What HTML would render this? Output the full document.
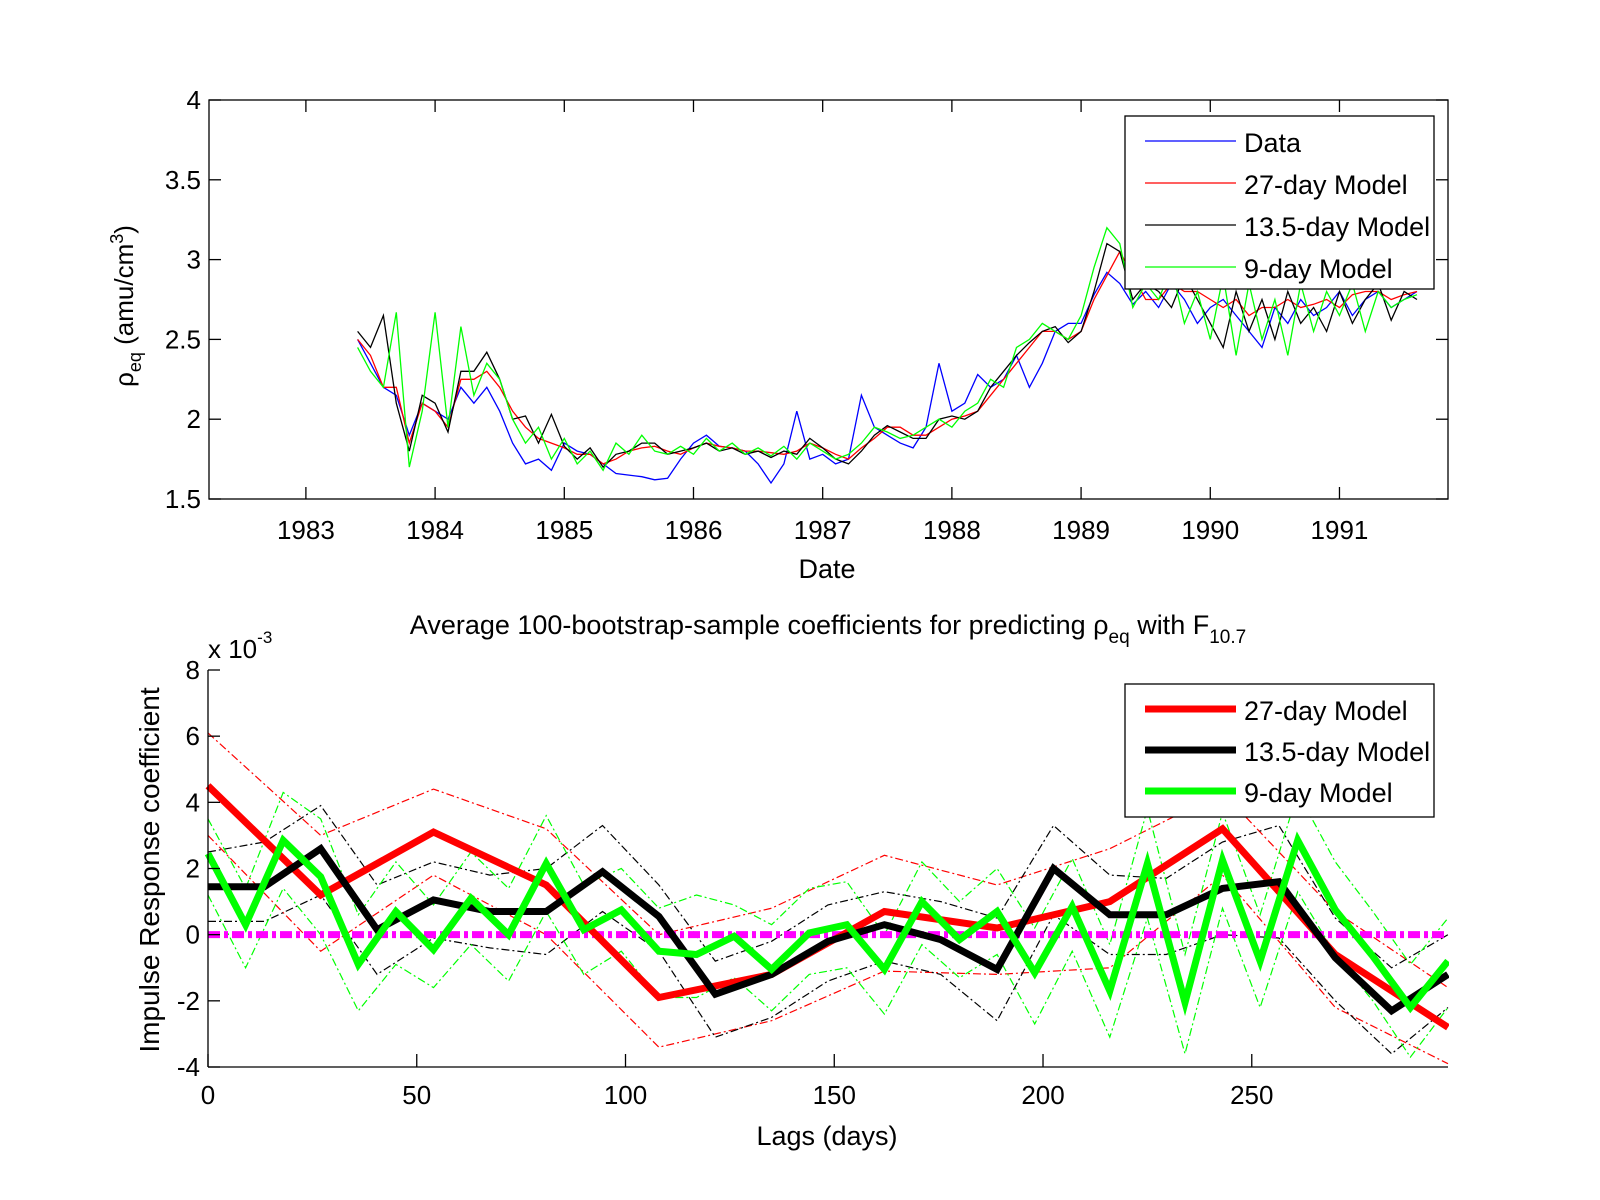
<!DOCTYPE html>
<html><head><meta charset="utf-8"><style>
html,body{margin:0;padding:0;background:#fff;}
svg{display:block;font-family:"Liberation Sans",sans-serif;}
</style></head><body>
<svg id="fig" width="1600" height="1200" viewBox="0 0 1600 1200" xmlns="http://www.w3.org/2000/svg">
<rect width="1600" height="1200" fill="#fff"/>
</svg>
<script>
// ---------- TOP CHART DATA ----------
const topStartYear = 1983.4;
const topStepYear = 0.1;
const topXTicks = [1983,1984,1985,1986,1987,1988,1989,1990,1991];
const topYTicks = [1.5,2,2.5,3,3.5,4];
const dataSeries = [2.5,2.35,2.2,2.15,1.9,2.1, 2.05,2.0,2.2,2.1,2.2,2.05,1.85,1.72,1.75,1.68, 1.85,1.8,1.78,1.72,1.66,1.65,1.64,1.62,1.63,1.75, 1.85,1.9,1.83,1.82,1.8,1.72,1.6,1.72,2.05,1.75, 1.78,1.72,1.75,2.15,1.95,1.9,1.85,1.82,1.95,2.35, 2.05,2.1,2.28,2.2,2.25,2.4,2.2,2.35,2.55,2.6, 2.6,2.78,2.92,2.85,2.72,2.8,2.7,2.85,2.75,2.6, 2.7,2.75,2.65,2.55,2.45,2.7,2.6,2.75,2.65,2.7, 2.8,2.65,2.75,2.8,2.7,2.75,2.8];
const model27Series = [2.5,2.4,2.2,2.2,1.85,2.1, 2.05,1.95,2.25,2.25,2.3,2.2,2.05,1.95,1.88,1.85, 1.82,1.78,1.78,1.72,1.75,1.8,1.82,1.83,1.8,1.78, 1.82,1.85,1.83,1.82,1.8,1.8,1.79,1.78,1.8,1.85, 1.82,1.78,1.75,1.82,1.88,1.95,1.95,1.9,1.9,1.95, 2.0,2.02,2.05,2.15,2.25,2.35,2.45,2.55,2.55,2.5, 2.55,2.75,2.9,3.05,2.9,2.75,2.75,2.85,2.8,2.8, 2.75,2.7,2.75,2.65,2.7,2.7,2.75,2.7,2.72,2.75, 2.7,2.78,2.8,2.8,2.75,2.78,2.8];
const model13Series = [2.55,2.45,2.65,2.1,1.8,2.15, 2.1,1.92,2.3,2.3,2.42,2.25,2.0,2.02,1.85,2.03, 1.83,1.75,1.82,1.7,1.78,1.8,1.85,1.85,1.78,1.8, 1.82,1.85,1.8,1.82,1.78,1.8,1.76,1.8,1.78,1.88, 1.82,1.75,1.72,1.8,1.9,1.96,1.92,1.88,1.88,2.0, 2.02,2.0,2.05,2.2,2.3,2.4,2.48,2.55,2.58,2.48, 2.55,2.8,3.1,3.05,2.75,2.85,2.8,2.7,2.9,2.75, 2.6,2.45,2.8,2.55,2.75,2.5,2.8,2.6,2.7,2.55, 2.8,2.6,2.75,2.85,2.62,2.8,2.75];
const model9Series = [2.45,2.3,2.2,2.67,1.7,2.05, 2.67,1.95,2.58,2.15,2.35,2.25,2.0,1.85,1.95,1.75, 1.88,1.72,1.8,1.68,1.85,1.78,1.9,1.8,1.78,1.83, 1.78,1.88,1.8,1.85,1.78,1.82,1.77,1.83,1.75,1.85, 1.8,1.75,1.78,1.85,1.95,1.92,1.88,1.9,1.95,2.0, 1.95,2.05,2.1,2.25,2.2,2.45,2.5,2.6,2.55,2.5, 2.65,2.95,3.2,3.1,2.7,2.85,2.75,2.95,2.6,2.8, 2.5,2.9,2.4,2.85,2.5,2.75,2.4,2.85,2.55,2.8, 2.65,2.85,2.55,2.8,2.7,2.75,2.78];

// ---------- BOTTOM CHART DATA ----------
const botXTicks = [0,50,100,150,200,250];
const botYTicks = [-4,-2,0,2,4,6,8];
const red27 = [4.5,1.2,3.1,1.5,-1.9,-1.2,0.7,0.2,1.0,3.2,-0.6,-2.8];
const red27Up = [6.1,3.0,4.4,3.2,0.0,0.8,2.4,1.5,2.6,4.3,0.7,-1.6];
const red27Lo = [3.0,-0.5,1.8,0.0,-3.4,-2.6,-1.1,-1.2,-1.0,1.8,-2.2,-3.9];
const black13 = [1.45,1.45,2.6,0.15,1.05,0.7,0.7,1.9,0.55,-1.8,-1.2,-0.2,0.3,-0.15,-1.05,2.0,0.6,0.6,1.4,1.6,-0.7,-2.3,-1.2];
const black13Up = [2.5,2.8,3.9,1.5,2.2,1.8,2.0,3.3,1.5,-0.8,-0.2,0.9,1.3,1.0,0.5,3.3,1.8,1.7,2.8,3.3,0.5,-1.0,0.0];
const black13Lo = [0.4,0.4,1.2,-1.2,-0.1,-0.4,-0.6,0.7,-0.5,-3.1,-2.5,-1.4,-0.8,-1.2,-2.6,0.6,-0.6,-0.6,0.0,-0.1,-2.0,-3.6,-2.2];
const green9 = [2.45,0.3,2.85,1.75,-0.9,0.7,-0.45,1.1,0,2.15,0.15,0.75,-0.5,-0.6,-0.05,-1.05,0.05,0.3,-1.05,1.0,-0.15,0.7,-1.15,0.85,-1.7,2.15,-2.05,2.25,-0.8,2.85,0.75,-0.65,-2.2,-0.8];
const green9Up = [3.5,1.4,4.3,3.5,0.6,2.2,0.9,2.5,1.4,3.6,1.5,2.0,0.8,1.2,0.9,0.3,1.4,1.6,0.0,2.2,1.0,2.0,0.2,2.3,-0.3,3.8,-0.6,3.7,0.6,4.3,2.2,0.7,-0.9,0.5];
const green9Lo = [1.2,-1.0,1.4,0.0,-2.3,-0.9,-1.6,-0.3,-1.4,0.7,-1.2,-0.5,-1.9,-1.9,-1.3,-2.3,-1.2,-1.0,-2.4,-0.3,-1.3,-0.6,-2.7,-0.5,-3.1,0.5,-3.6,0.8,-2.2,1.3,-0.6,-2.0,-3.7,-2.2];

const NS = 'http://www.w3.org/2000/svg';
const svg = document.getElementById('fig');
function mk(tag, attrs, parent){
  const e = document.createElementNS(NS, tag);
  for (const k in attrs) e.setAttribute(k, attrs[k]);
  (parent||svg).appendChild(e);
  return e;
}
function txt(x,y,s,size,anchor,parent){
  const t = mk('text',{x:x,y:y,'font-size':size,'text-anchor':anchor||'middle',fill:'#000'},parent);
  t.textContent = s;
  return t;
}

const T = {l:209, r:1448, t:100, b:499, x0:1982.25, x1:1991.84, y0:1.5, y1:4};
const tx = v => T.l + (v - T.x0)/(T.x1 - T.x0)*(T.r - T.l);
const ty = v => T.b - (v - T.y0)/(T.y1 - T.y0)*(T.b - T.t);
const B = {l:208, r:1448, t:670, b:1067, x0:0, x1:297, y0:-4, y1:8};
const bx = v => B.l + (v - B.x0)/(B.x1 - B.x0)*(B.r - B.l);
const by = v => B.b - (v - B.y0)/(B.y1 - B.y0)*(B.b - B.t);

function poly(xs, ys, stroke, width, dash, name){
  const pts = xs.map((x,i)=>x.toFixed(1)+','+ys[i].toFixed(1)).join(' ');
  const p = mk('polyline',{points:pts,fill:'none',stroke:stroke,'stroke-width':width,'stroke-linejoin':'miter'});
  if (dash) p.setAttribute('stroke-dasharray', dash);
  
  
  return p;
}

// ----- top chart -----
const topYears = model27Series.map((v,i)=>topStartYear + i*topStepYear);
poly(topYears.map(tx), dataSeries.map(ty), '#0000ff', 1.3, null, 'data-line');
poly(topYears.map(tx), model27Series.map(ty), '#ff0000', 1.3, null, 'model-27-day-line');
poly(topYears.map(tx), model13Series.map(ty), '#000000', 1.3, null, 'model-13-5-day-line');
poly(topYears.map(tx), model9Series.map(ty), '#00ff00', 1.3, null, 'model-9-day-line');
const topBox = mk('rect',{x:T.l,y:T.t,width:T.r-T.l,height:T.b-T.t,fill:'none',stroke:'#000','stroke-width':1.3});


topXTicks.forEach(v=>{
  const x = tx(v);
  mk('line',{x1:x,y1:T.b,x2:x,y2:T.b-12,stroke:'#000','stroke-width':1.3});
  mk('line',{x1:x,y1:T.t,x2:x,y2:T.t+12,stroke:'#000','stroke-width':1.3});
  const t = txt(x, T.b+40, String(v), 26);
  
  
});
topYTicks.forEach(v=>{
  const y = ty(v);
  mk('line',{x1:T.l,y1:y,x2:T.l+12,y2:y,stroke:'#000','stroke-width':1.3});
  mk('line',{x1:T.r,y1:y,x2:T.r-12,y2:y,stroke:'#000','stroke-width':1.3});
  const t = txt(T.l-8, y+9, String(v), 26, 'end');
  
  
});
const dateLbl = txt(827, 578, 'Date', 27);


const yl1 = mk('text',{x:0,y:0,'font-size':26,'text-anchor':'middle',transform:'translate(133,306) rotate(-90)'});
yl1.innerHTML = 'ρ<tspan font-size="18" dy="8">eq</tspan><tspan dy="-8"> (amu/cm</tspan><tspan font-size="18" dy="-10">3</tspan><tspan dy="10">)</tspan>';



const lg1 = mk('g',{});


mk('rect',{x:1125,y:116,width:309,height:173,fill:'#fff',stroke:'#000','stroke-width':1.3},lg1);
const topLeg = [['Data','#0000ff'],['27-day Model','#ff0000'],['13.5-day Model','#000'],['9-day Model','#00ff00']];
topLeg.forEach((e,i)=>{
  const y = 141 + i*42;
  mk('line',{x1:1145,y1:y,x2:1236,y2:y,stroke:e[1],'stroke-width':1.3},lg1);
  const t = txt(1244, y+11, e[0], 27, 'start', lg1);
  
  
});

// ----- bottom chart -----
const x27 = red27.map((v,i)=>bx(i*27));
const x13 = black13.map((v,i)=>bx(i*13.5));
const x9 = green9.map((v,i)=>bx(i*9));
poly(x27, red27Up.map(by), '#ff0000', 1.2, '8,3,2,3', 'red-upper-bound');
poly(x27, red27Lo.map(by), '#ff0000', 1.2, '8,3,2,3', 'red-lower-bound');
poly(x13, black13Up.map(by), '#000', 1.2, '8,3,2,3', 'black-upper-bound');
poly(x13, black13Lo.map(by), '#000', 1.2, '8,3,2,3', 'black-lower-bound');
poly(x9, green9Up.map(by), '#00ff00', 1.2, '8,3,2,3', 'green-upper-bound');
poly(x9, green9Lo.map(by), '#00ff00', 1.2, '8,3,2,3', 'green-lower-bound');
const zl = mk('line',{x1:B.l,y1:by(0),x2:B.r,y2:by(0),stroke:'#ff00ff','stroke-width':7,'stroke-dasharray':'12,4,4,4'});


poly(x27, red27.map(by), '#ff0000', 7, null, 'red-27-day-line');
poly(x13, black13.map(by), '#000', 7, null, 'black-13-5-day-line');
poly(x9, green9.map(by), '#00ff00', 7, null, 'green-9-day-line');
const mskR = mk('rect',{x:B.r+1,y:B.t-10,width:150,height:B.b-B.t+20,fill:'#fff'});


mk('line',{x1:B.l,y1:B.t,x2:B.l,y2:B.b,stroke:'#000','stroke-width':1.3});
mk('line',{x1:B.l,y1:B.b,x2:B.r,y2:B.b,stroke:'#000','stroke-width':1.3});
botXTicks.forEach(v=>{
  const x = bx(v);
  mk('line',{x1:x,y1:B.b,x2:x,y2:B.b-13,stroke:'#000','stroke-width':1.3});
  const t = txt(x, B.b+37, String(v), 26);
  
  
});
botYTicks.forEach(v=>{
  const y = by(v);
  mk('line',{x1:B.l,y1:y,x2:B.l+12,y2:y,stroke:'#000','stroke-width':1.3});
  const t = txt(B.l-8, y+9, String(v), 26, 'end');
  
  
});
const expo = mk('text',{x:208,y:658,'font-size':26,'text-anchor':'start'});
expo.innerHTML = 'x 10<tspan font-size="17" dy="-15">-3</tspan>';


const title = mk('text',{x:828,y:634,'font-size':27,'text-anchor':'middle'});
title.innerHTML = 'Average 100-bootstrap-sample coefficients for predicting ρ<tspan font-size="19" dy="9">eq</tspan><tspan dy="-9"> with F</tspan><tspan font-size="19" dy="9">10.7</tspan>';


const lagLbl = txt(827, 1145, 'Lags (days)', 27);


const yl2 = mk('text',{x:0,y:0,'font-size':28,'text-anchor':'middle',transform:'translate(159,870) rotate(-90)'});
yl2.textContent = 'Impulse Response coefficient';



const lg2 = mk('g',{});


mk('rect',{x:1125,y:684,width:309,height:133,fill:'#fff',stroke:'#000','stroke-width':1.3},lg2);
const botLeg = [['27-day Model','#ff0000'],['13.5-day Model','#000'],['9-day Model','#00ff00']];
botLeg.forEach((e,i)=>{
  const y = 709 + i*41;
  mk('line',{x1:1145,y1:y,x2:1236,y2:y,stroke:e[1],'stroke-width':7},lg2);
  const t = txt(1244, y+11, e[0], 27, 'start', lg2);
  
  
});
</script>
</body></html>
